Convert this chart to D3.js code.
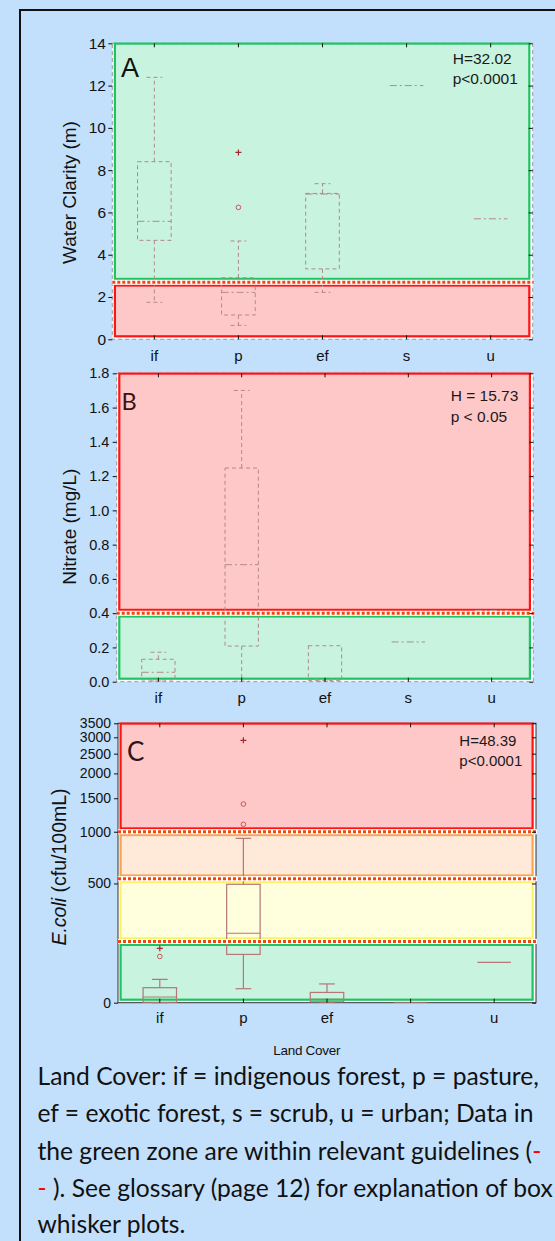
<!DOCTYPE html>
<html><head><meta charset="utf-8">
<script src="https://cdn.jsdelivr.net/npm/d3@7"></script>
<style>
html,body{margin:0;padding:0;background:#c2dffb;overflow:hidden;}
svg{display:block;}
</style></head><body>
<svg id="chart" width="555" height="1241"></svg>
<script>
// ---------------- DATA ----------------
const categories = ["if", "p", "ef", "s", "u"];

// Panel A: water clarity (m)
const clarityTicks = [0, 2, 4, 6, 8, 10, 12, 14];
const clarityMin    = [1.75, 0.66, 2.22, 12.0, 5.7];
const clarityQ1     = [4.68, 1.15, 3.33, 12.0, 5.7];
const clarityMedian = [5.58, 2.22, 6.87, 12.0, 5.7];
const clarityQ3     = [8.40, 2.91, 6.90, 12.0, 5.7];
const clarityMax    = [12.39, 4.65, 7.36, 12.0, 5.7];
const clarityOutlierCats = ["p"];
const clarityOutlierValues = [6.24];
const clarityExtremeCats = ["p"];
const clarityExtremeValues = [8.84];
const clarityThresholds = [2.7];
const clarityZoneLo = [2.7, 0];
const clarityZoneHi = [14, 2.7];
const clarityZoneKinds = ["green", "red"];
const clarityStatText = ["H=32.02", "p<0.0001"];

// Panel B: nitrate (mg/L)
const nitrateTicks = [0, 0.2, 0.4, 0.6, 0.8, 1.0, 1.2, 1.4, 1.6, 1.8];
const nitrateMin    = [0.004, 0.003, 0.003, 0.232, 0.415];
const nitrateQ1     = [0.010, 0.208, 0.006, 0.232, 0.415];
const nitrateMedian = [0.055, 0.683, 0.012, 0.232, 0.415];
const nitrateQ3     = [0.131, 1.247, 0.210, 0.232, 0.415];
const nitrateMax    = [0.172, 1.700, 0.210, 0.232, 0.415];
const nitrateThresholds = [0.40];
const nitrateZoneLo = [0.40, 0];
const nitrateZoneHi = [1.8, 0.40];
const nitrateZoneKinds = ["red", "green"];
const nitrateStatText = ["H = 15.73", "p < 0.05"];

// Panel C: E. coli (cfu/100mL)
const ecoliTicks = [0, 500, 1000, 1500, 2000, 2500, 3000, 3500];
const ecoliMin    = [0, 32, 1, 1, 106];
const ecoliQ1     = [1, 133, 2, 1, 106];
const ecoliMedian = [12.5, 216, 7, 1, 106];
const ecoliQ3     = [34.5, 494, 23, 1, 106];
const ecoliMax    = [56, 920, 44, 1, 106];
const ecoliOutlierCats = ["if", "p", "p"];
const ecoliOutlierValues = [126, 1400, 1096];
const ecoliExtremeCats = ["if", "p"];
const ecoliExtremeValues = [155, 2900];
const ecoliThresholds = [1000, 535, 181];
const ecoliZoneLo = [1000, 535, 181, 0];
const ecoliZoneHi = [3500, 1000, 535, 181];
const ecoliZoneKinds = ["red", "orange", "yellow", "green"];
const ecoliStatText = ["H=48.39", "p<0.0001"];

// ---------------- STYLE ----------------
const FONT = "'Liberation Sans', Arial, Helvetica, sans-serif";
const zoneStyle = {
  green:  {fill: "#c8f3de", stroke: "#1ec464"},
  red:    {fill: "#ffc8c8", stroke: "#ff1414"},
  orange: {fill: "#ffe9d8", stroke: "#f8a454"},
  yellow: {fill: "#fffedd", stroke: "#f8f36a"}
};

const svg = d3.select("#chart");
svg.append("rect").attr("width", 555).attr("height", 1241).attr("fill", "#c2dffb");
svg.append("rect").attr("x", 20).attr("y", 10).attr("width", 700).attr("height", 1400)
  .attr("fill", "none").attr("stroke", "#111").attr("stroke-width", 2);

function panel(cfg) {
  const g = svg.append("g");
  const x = d3.scaleBand().domain(categories).range([cfg.x0, cfg.x1]);
  const y = cfg.y;
  const [yb, yt] = y.range();
  // plot background
  g.append("rect").attr("x", cfg.x0).attr("y", yt).attr("width", cfg.x1 - cfg.x0).attr("height", yb - yt)
    .attr("fill", "#fff").attr("stroke", cfg.frame).attr("stroke-width", 1)
    .attr("stroke-dasharray", cfg.frameDash);
  // zones
  const dom = y.domain();
  cfg.zoneKinds.forEach((k, i) => {
    const lo = cfg.zoneLo[i], hi = cfg.zoneHi[i];
    const top = y(hi) + (hi >= dom[1] ? 0.3 : 3.3);
    const bot = y(lo) - (lo <= dom[0] ? 3 : 3.3);
    g.append("rect").attr("x", cfg.x0 + 2.6).attr("y", top)
      .attr("width", cfg.x1 - cfg.x0 - 6).attr("height", bot - top)
      .attr("fill", zoneStyle[k].fill).attr("stroke", zoneStyle[k].stroke).attr("stroke-width", 2.2);
  });
  // boxes
  const bw = x.bandwidth() * 0.4, cw = bw * 0.47;
  const bs = cfg.box;
  categories.forEach((c, i) => {
    const cx = x(c) + x.bandwidth() / 2;
    const mn = cfg.min[i], q1 = cfg.q1[i], md = cfg.med[i], q3 = cfg.q3[i], mx = cfg.max[i];
    const line = (x1, y1, x2, y2, dash) => g.append("line").attr("x1", x1).attr("y1", y1).attr("x2", x2).attr("y2", y2)
      .attr("stroke", bs.color).attr("stroke-width", bs.width).attr("stroke-dasharray", dash);
    if (q1 === q3 && mn === mx) {
      line(cx - bw / 2, y(md), cx + bw / 2, y(md), bs.medDash);
      return;
    }
    if (mx > q3) { line(cx, y(q3), cx, y(mx), bs.dash); line(cx - cw / 2, y(mx), cx + cw / 2, y(mx), bs.dash); }
    if (mn < q1) { line(cx, y(q1), cx, y(mn), bs.dash); line(cx - cw / 2, y(mn), cx + cw / 2, y(mn), bs.dash); }
    g.append("rect").attr("x", cx - bw / 2).attr("y", y(q3)).attr("width", bw).attr("height", y(q1) - y(q3))
      .attr("fill", "none").attr("stroke", bs.color).attr("stroke-width", bs.width).attr("stroke-dasharray", bs.dash);
    line(cx - bw / 2, y(md), cx + bw / 2, y(md), bs.medDash);
  });
  // outliers
  (cfg.outCats || []).forEach((c, i) => {
    g.append("circle").attr("cx", x(c) + x.bandwidth() / 2).attr("cy", y(cfg.outVals[i])).attr("r", 2.3)
      .attr("fill", "none").attr("stroke", "#c85858").attr("stroke-width", 1);
  });
  (cfg.extCats || []).forEach((c, i) => {
    const cx = x(c) + x.bandwidth() / 2, cy = y(cfg.extVals[i]);
    g.append("path").attr("d", `M${cx - 3},${cy}H${cx + 3}M${cx},${cy - 3}V${cy + 3}`)
      .attr("stroke", "#a02828").attr("stroke-width", 1.2);
  });
  // thresholds
  cfg.thresholds.forEach(t => {
    g.append("line").attr("x1", cfg.x0).attr("x2", cfg.x1 + 1).attr("y1", y(t)).attr("y2", y(t))
      .attr("stroke", "#fff").attr("stroke-width", 5);
    g.append("line").attr("x1", cfg.x0).attr("x2", cfg.x1 + 1).attr("y1", y(t)).attr("y2", y(t))
      .attr("stroke", "#f2450f").attr("stroke-width", 3).attr("stroke-dasharray", "3,2");
  });
  // axes
  const style = sel => sel.selectAll("text").attr("font-family", FONT).attr("fill", "#111");
  const ax = g.append("g").attr("transform", `translate(${cfg.x0},0)`)
    .call(d3.axisLeft(y).tickValues(cfg.ticks).tickFormat(cfg.fmt).tickSize(4).tickPadding(cfg.ypad));
  ax.select(".domain").remove(); style(ax); ax.selectAll("text").attr("font-size", cfg.tickFont);
  ax.selectAll("line").attr("stroke", "#111");
  const ar = g.append("g").attr("transform", `translate(${cfg.x1},0)`)
    .call(d3.axisRight(y).tickValues(cfg.ticks).tickFormat("").tickSize(-4));
  ar.select(".domain").remove(); ar.selectAll("line").attr("stroke", "#111");
  const at = g.append("g").attr("transform", `translate(0,${yt})`)
    .call(d3.axisTop(x).tickFormat("").tickSize(-4));
  at.select(".domain").remove(); at.selectAll("line").attr("stroke", "#111");
  const abx = g.append("g").attr("transform", `translate(0,${yb})`)
    .call(d3.axisBottom(x).tickSize(-4).tickPadding(cfg.xpad));
  abx.select(".domain").remove(); style(abx); abx.selectAll("text").attr("font-size", 15);
  abx.selectAll("line").attr("stroke", "#111");
  // stats text
  cfg.stat.forEach((s, i) => {
    g.append("text").attr("x", cfg.statX).attr("y", cfg.statY[i]).text(s)
      .attr("font-family", FONT).attr("font-size", cfg.statFont).attr("fill", "#1a1a1a");
  });
  // panel letter
  g.append("text").attr("x", cfg.letterX).attr("y", cfg.letterY).text(cfg.letter)
    .attr("font-family", cfg.letterFamily).attr("font-size", cfg.letterSize).attr("fill", cfg.letterColor);
  // y title
  const yt2 = g.append("text").attr("transform", `translate(${cfg.titleX},${cfg.titleY}) rotate(-90)`)
    .attr("text-anchor", "middle").attr("font-family", FONT).attr("font-size", cfg.titleSize).attr("fill", "#111");
  cfg.title.forEach(([t, it]) => yt2.append("tspan").text(t).attr("font-style", it ? "italic" : "normal"));
  return g;
}

const dashedBox = {color: "#b58888", width: 1, dash: "4,3", medDash: "7,3,2,3"};
const solidBox = {color: "#b47676", width: 1.2, dash: null, medDash: null};

panel({
  x0: 112.3, x1: 532.7, y: d3.scaleLinear().domain([0, 14]).range([339.3, 43.3]),
  frame: "#9a9a9a", frameDash: "4,3",
  zoneLo: clarityZoneLo, zoneHi: clarityZoneHi, zoneKinds: clarityZoneKinds,
  min: clarityMin, q1: clarityQ1, med: clarityMedian, q3: clarityQ3, max: clarityMax, box: dashedBox,
  outCats: clarityOutlierCats, outVals: clarityOutlierValues, extCats: clarityExtremeCats, extVals: clarityExtremeValues,
  thresholds: clarityThresholds, ticks: clarityTicks, fmt: d3.format("d"), ypad: 2.3, tickFont: 15.5, xpad: 11,
  stat: clarityStatText, statX: 452.7, statY: [64.3, 84], statFont: 15.5,
  letter: "A", letterX: 121, letterY: 77, letterSize: 27, letterFamily: FONT, letterColor: "#111",
  title: [["Water Clarity (m)", false]], titleX: 76, titleY: 192.5, titleSize: 19
});

panel({
  x0: 116.7, x1: 533.3, y: d3.scaleLinear().domain([0, 1.8]).range([681.7, 373.3]),
  frame: "#9a9a9a", frameDash: "4,3",
  zoneLo: nitrateZoneLo, zoneHi: nitrateZoneHi, zoneKinds: nitrateZoneKinds,
  min: nitrateMin, q1: nitrateQ1, med: nitrateMedian, q3: nitrateQ3, max: nitrateMax, box: dashedBox,
  thresholds: nitrateThresholds, ticks: nitrateTicks, fmt: d3.format(".1f"), ypad: 3.4, tickFont: 14.5, xpad: 10.6,
  stat: nitrateStatText, statX: 450.7, statY: [400.7, 422.3], statFont: 15.5,
  letter: "B", letterX: 121.5, letterY: 410, letterSize: 23.5, letterFamily: "Lato, 'Open Sans', sans-serif", letterColor: "#3a1212",
  title: [["Nitrate (mg/L)", false]], titleX: 76, titleY: 526.7, titleSize: 19
});

panel({
  x0: 118, x1: 536, y: d3.scaleSymlog().constant(205).domain([0, 3500]).range([1002.7, 723.3]),
  frame: "#333", frameDash: null,
  zoneLo: ecoliZoneLo, zoneHi: ecoliZoneHi, zoneKinds: ecoliZoneKinds,
  min: ecoliMin, q1: ecoliQ1, med: ecoliMedian, q3: ecoliQ3, max: ecoliMax, box: solidBox,
  outCats: ecoliOutlierCats, outVals: ecoliOutlierValues, extCats: ecoliExtremeCats, extVals: ecoliExtremeValues,
  thresholds: ecoliThresholds, ticks: ecoliTicks, fmt: d3.format("d"), ypad: 3, tickFont: 14, xpad: 9.6,
  stat: ecoliStatText, statX: 459.3, statY: [746, 766], statFont: 15,
  letter: "C", letterX: 127, letterY: 761, letterSize: 26, letterFamily: "Lato, 'Open Sans', sans-serif", letterColor: "#2a1616",
  title: [["E.coli", true], [" (cfu/100mL)", false]], titleX: 66, titleY: 867, titleSize: 19.5
});

// x title
svg.append("text").attr("x", 306.7).attr("y", 1055).attr("text-anchor", "middle")
  .attr("font-family", FONT).attr("font-size", 13.5).attr("letter-spacing", -0.3).attr("fill", "#111").text("Land Cover");

// caption
const captionLines = [
  [["Land Cover: if = indigenous forest, p = pasture,", "#111"]],
  [["ef = exotic forest, s = scrub, u = urban; Data in", "#111"]],
  [["the green zone are within relevant guidelines (", "#111"], ["-", "#ff0000"]],
  [["-", "#ff0000"], [" ). See glossary (page 12) for explanation of box", "#111"]],
  [["whisker plots.", "#111"]]
];
const captionY = [1085, 1121.7, 1160, 1196.7, 1233.3];
const CAPFONT = "Lato, 'Open Sans', sans-serif";
const probe = svg.append("text").attr("font-family", CAPFONT).attr("font-size", 20).text(captionLines[0][0][0]);
const capSize = 20 * 501.5 / probe.node().getComputedTextLength();
probe.remove();
captionLines.forEach((ln, i) => {
  const t = svg.append("text").attr("x", 37.5).attr("y", captionY[i]).attr("font-family", CAPFONT)
    .attr("font-size", capSize).attr("xml:space", "preserve").style("white-space", "pre");
  ln.forEach(([s, col]) => t.append("tspan").attr("fill", col).text(s));
});
</script>
</body></html>
